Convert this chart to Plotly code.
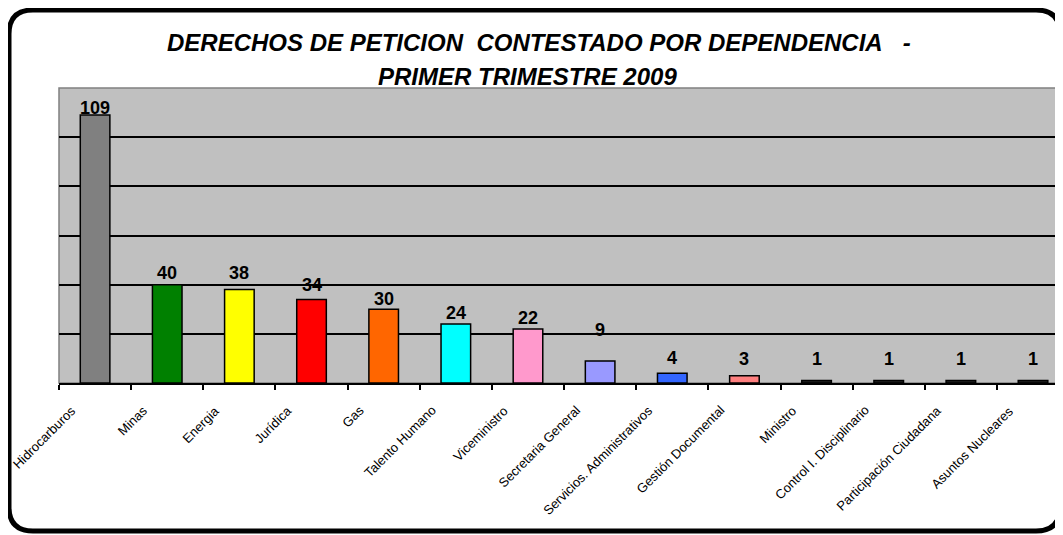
import plotly.graph_objects as go

# ---- data ----
categories = ["Hidrocarburos", "Minas", "Energia", "Jurídica", "Gas", "Talento Humano",
              "Viceministro", "Secretaria General", "Servicios. Administrativos",
              "Gestión Documental", "Ministro", "Control I. Disciplinario",
              "Participación Ciudadana", "Asuntos Nucleares"]
values = [109, 40, 38, 34, 30, 24, 22, 9, 4, 3, 1, 1, 1, 1]
bar_colors = ["#808080", "#008000", "#FFFF00", "#FF0000", "#FF6600", "#00FFFF",
              "#FF99CC", "#9999FF", "#3366FF", "#FF8080", "#222222", "#222222",
              "#222222", "#222222"]
title_line1 = "DERECHOS DE PETICION\u00a0 CONTESTADO POR DEPENDENCIA\u00a0\u00a0 -"
title_line2 = "PRIMER TRIMESTRE 2009"

# ---- styling (pixel layout, screen coordinates) ----
OFF = 8  # page body margin
W, H = 1063 - OFF, 535 - OFF
PL, PR, PT, PB = 59, 1063, 88, 383  # plot area in screen pixels
label_lift = [-5, 0, 5, 2, -2, -1, -1, 19, 3, 5, 10, 10, 10, 10]

def px(x):
    return (x - PL) / (PR - PL)

def py(y):
    return (PB - y) / (PB - PT)

n = len(categories)
x = list(range(n))

fig = go.Figure()
fig.add_trace(go.Bar(
    x=x, y=values, width=0.41,
    marker=dict(color=bar_colors, line=dict(color="black", width=1.5)),
    hoverinfo="skip", showlegend=False,
))

# frame (rounded rectangle)
x0, x1, y0, y1, r = 9, 1060, 10, 531, 24
path = (f"M {px(x0+r)},{py(y0)} L {px(x1-r)},{py(y0)} Q {px(x1)},{py(y0)} {px(x1)},{py(y0+r)} "
        f"L {px(x1)},{py(y1-r)} Q {px(x1)},{py(y1)} {px(x1-r)},{py(y1)} "
        f"L {px(x0+r)},{py(y1)} Q {px(x0)},{py(y1)} {px(x0)},{py(y1-r)} "
        f"L {px(x0)},{py(y0+r)} Q {px(x0)},{py(y0)} {px(x0+r)},{py(y0)} Z")
shapes = [
    dict(type="path", path=path, xref="paper", yref="paper", layer="below",
         line=dict(color="black", width=5), fillcolor="white"),
    dict(type="rect", xref="paper", yref="paper", x0=0, x1=1.01, y0=0, y1=1,
         layer="below", line=dict(color="#808080", width=1.5), fillcolor="#C0C0C0"),
]

annotations = []
font_main = "Liberation Sans, Arial, sans-serif"
for i, (c, v) in enumerate(zip(categories, values)):
    annotations.append(dict(
        x=i, y=v, xref="x", yref="y", text=f"<b>{v}</b>", showarrow=False,
        xanchor="center", yanchor="bottom", yshift=label_lift[i],
        font=dict(family=font_main, size=18, color="black")))
    annotations.append(dict(
        x=i, y=0, xref="x", yref="y", text=c, showarrow=False, textangle=-45,
        xanchor="right", yanchor="top", xshift=-14, yshift=-17,
        font=dict(family=font_main, size=13, color="black")))

annotations.append(dict(x=px(539), y=py(43), xref="paper", yref="paper",
                        text=f"<b><i>{title_line1}</i></b>", showarrow=False,
                        xanchor="center", yanchor="middle",
                        font=dict(family=font_main, size=24, color="black")))
annotations.append(dict(x=px(527), y=py(77), xref="paper", yref="paper",
                        text=f"<b><i>{title_line2}</i></b>", showarrow=False,
                        xanchor="center", yanchor="middle",
                        font=dict(family=font_main, size=24, color="black")))

fig.update_layout(
    width=W, height=H,
    margin=dict(l=PL - OFF, r=1063 - PR, t=PT - OFF, b=535 - PB),
    paper_bgcolor="white", plot_bgcolor="rgba(0,0,0,0)",
    shapes=shapes, annotations=annotations,
    xaxis=dict(range=[-0.5, -0.5 + (PR - PL) / 72.15], tickvals=[i - 0.5 for i in range(n + 1)],
               ticktext=[""] * (n + 1), ticks="outside", ticklen=5, tickcolor="black",
               tickwidth=1.5, showline=True, linecolor="black", linewidth=1.5,
               showgrid=False, zeroline=False, fixedrange=True),
    yaxis=dict(range=[0, 120], tickvals=[20, 40, 60, 80, 100], showticklabels=False,
               showgrid=True, gridcolor="black", gridwidth=1.5, zeroline=False,
               showline=False, ticks="", fixedrange=True),
    bargap=0.59,
)

fig.write_html("out.html")
